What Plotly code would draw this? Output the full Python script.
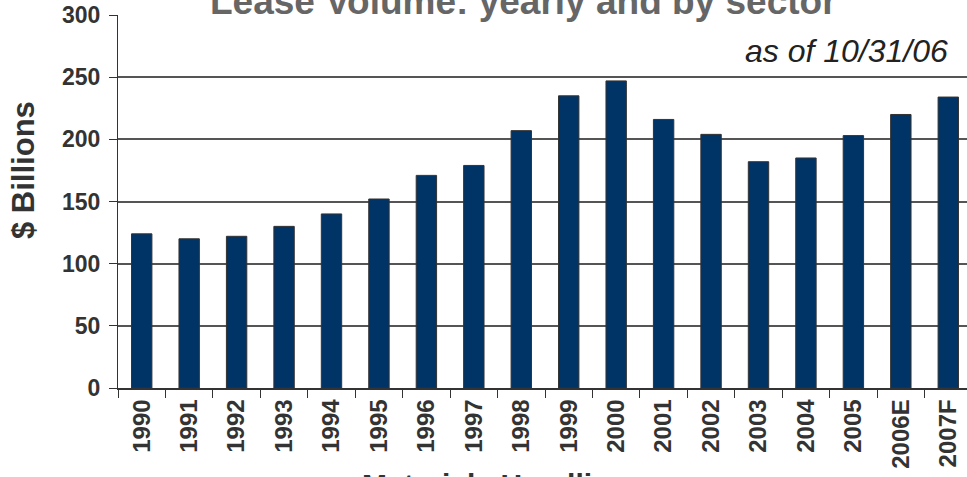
import plotly.graph_objects as go

years = ["1990", "1991", "1992", "1993", "1994", "1995", "1996", "1997", "1998",
         "1999", "2000", "2001", "2002", "2003", "2004", "2005", "2006E", "2007F"]
volume = [124, 120, 122, 130, 140, 152, 171, 179, 207,
          235, 247, 216, 204, 182, 185, 203, 220, 234]
y_ticks = [0, 50, 100, 150, 200, 250, 300]

FONT = "Liberation Sans, Arial, sans-serif"
W = 972
PW = W - 118

fig = go.Figure(go.Bar(
    x=years, y=volume,
    marker=dict(color="#003366", line=dict(color="#333333", width=1)),
))

fig.update_layout(
    width=W, height=477,
    margin=dict(l=118, r=0, t=15, b=89, autoexpand=False),
    plot_bgcolor="white", paper_bgcolor="white",
    bargap=0.57,
    showlegend=False,
    font=dict(family=FONT, color="#333333"),
)

fig.update_yaxes(
    range=[0, 300], tickvals=y_ticks, automargin=False,
    showgrid=True, gridcolor="#555555", gridwidth=1.5,
    showline=True, linecolor="#333333", linewidth=1,
    ticks="outside", ticklen=8, tickcolor="#333333",
    ticklabelstandoff=4,
    tickfont=dict(family=FONT, size=23, color="#333333", weight="bold"),
    zeroline=False,
)
fig.update_xaxes(
    type="category", automargin=False,
    showline=True, linecolor="#333333", linewidth=1.5,
    ticks="outside", ticklen=8, tickcolor="#333333", tickson="boundaries",
    tickangle=-90,
    tickfont=dict(family=FONT, size=24, color="#333333", weight="bold"),
)

fig.add_annotation(
    text="<b>$ Billions</b>", textangle=-90,
    xref="paper", yref="paper", x=(23 - 118) / PW, y=1 - (170 - 15) / 373,
    xanchor="center", yanchor="middle", showarrow=False,
    font=dict(family=FONT, size=31, color="#333333"),
)
fig.add_annotation(
    text="<b>Lease Volume: yearly and by sector</b>",
    xref="paper", yref="paper", x=(523 - 118) / PW, y=1.035,
    xanchor="center", yanchor="middle", showarrow=False,
    font=dict(family=FONT, size=37, color="#666666"),
)
fig.add_annotation(
    text="<i>as of 10/31/06</i>",
    xref="paper", yref="paper", x=(950 - 118) / PW, y=0.903,
    xanchor="right", yanchor="middle", showarrow=False,
    font=dict(family=FONT, size=32, color="#222222"),
)
fig.add_annotation(
    text="<b>Materials Handling</b>",
    xref="paper", yref="paper", x=(360 - 118) / PW, y=-0.21,
    xanchor="left", yanchor="top", showarrow=False,
    font=dict(family=FONT, size=30, color="#333333"),
)

fig.write_html(
    "out.html",
    config={"displayModeBar": False},
    post_script="document.body.style.margin='0';document.body.style.overflow='hidden';",
)
